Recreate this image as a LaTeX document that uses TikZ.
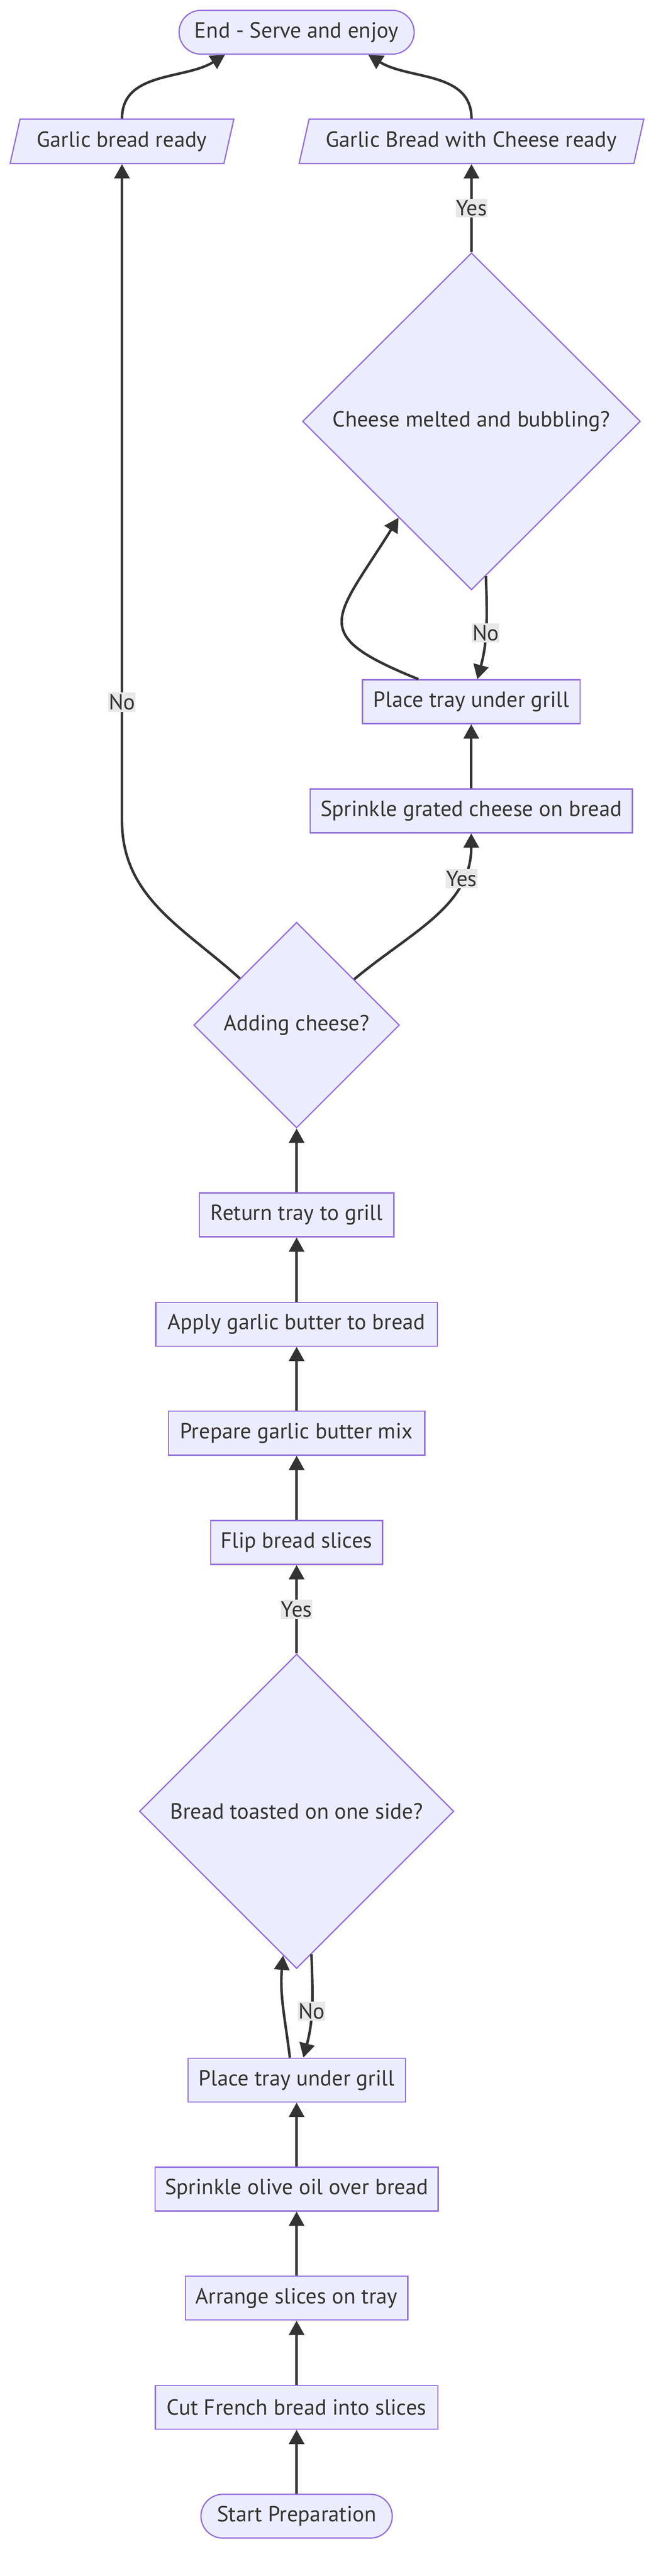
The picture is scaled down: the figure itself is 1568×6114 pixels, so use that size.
\documentclass[tikz,border=0pt]{standalone}
\usepackage{fontspec}
\setmainfont{PT Sans}
\usepackage{tikz}
\usetikzlibrary{shapes.geometric,arrows.meta,calc}
\definecolor{nodefill}{HTML}{ECECFF}
\definecolor{nodeline}{HTML}{9370DB}
\definecolor{ink}{HTML}{333333}
\definecolor{lblfill}{HTML}{E8E8E8}

\begin{document}
\begin{tikzpicture}[x=0.5pt,y=-0.5pt,
		base/.style={draw=nodeline,fill=nodefill,line width=1.5pt,text=ink,font=\fontsize{26}{30}\selectfont,inner xsep=4pt,inner ysep=0pt,minimum height=52pt},
		proc/.style={base,rectangle},
		term/.style={base,rectangle,rounded corners=26pt},
		outbox/.style={base,trapezium,trapezium left angle=63.7,trapezium right angle=116.3,trapezium stretches body,minimum height=52.5pt},
		ask/.style={base,diamond,inner sep=0pt},
		link/.style={draw=ink,line width=3pt,-{Triangle[length=17pt,width=18pt]}},
		lbl/.style={fill=lblfill,text=ink,font=\fontsize{26}{30}\selectfont,inner xsep=0.5pt,inner ysep=2pt}]
	\useasboundingbox (0,0) rectangle (1568,6114);
	\fill[white] (0,0) rectangle (1568,6114);

	\node[term, minimum width=279pt] (endn) at (704,76.5) {End - Serve and enjoy};
	\node[outbox, minimum width=265.5pt] (plain) at (289.5,335.5) {Garlic bread ready};
	\node[outbox, minimum width=409pt] (cheesy) at (1119,335.5) {Garlic Bread with Cheese ready};
	\node[ask, minimum width=401pt, minimum height=400pt] (melted) at (1119,1000) {Cheese melted and bubbling?};
	\node[proc, minimum width=258.5pt] (grilltwo) at (1118.5,1665.5) {Place tray under grill};
	\node[proc, minimum width=382.5pt] (cheese) at (1118.5,1924.5) {Sprinkle grated cheese on bread};
	\node[ask, minimum width=244pt, minimum height=244pt] (adding) at (704,2433) {Adding cheese?};
	\node[proc, minimum width=231pt] (back) at (704,2883.5) {Return tray to grill};
	\node[proc, minimum width=334pt] (apply) at (704,3143) {Apply garlic butter to bread};
	\node[proc, minimum width=304pt] (mix) at (704,3401.5) {Prepare garlic butter mix};
	\node[proc, minimum width=204pt] (flip) at (704,3661) {Flip bread slices};
	\node[ask, minimum width=373pt, minimum height=373pt] (toasted) at (704,4299) {Bread toasted on one side?};
	\node[proc, minimum width=258pt] (grillone) at (704,4937) {Place tray under grill};
	\node[proc, minimum width=336pt] (oil) at (704,5195.5) {Sprinkle olive oil over bread};
	\node[proc, minimum width=264pt] (arrange) at (704,5454.5) {Arrange slices on tray};
	\node[proc, minimum width=335.5pt] (cut) at (704,5713.5) {Cut French bread into slices};
	\node[term, minimum width=227pt] (start) at (704,5972) {Start Preparation};

	\foreach \a/\b in {start/cut,cut/arrange,arrange/oil,oil/grillone,flip/mix,mix/apply,apply/back,back/adding,cheese/grilltwo}
		\draw[link] (\a) -- (\b);

	\draw[link] ([xshift=-8pt]grillone.north) to[out=97,in=-95] ($(toasted.south)!0.086!(toasted.west)$);
	\draw[link] ($(toasted.south)!0.094!(toasted.east)$) to[out=-88,in=75] node[lbl,pos=0.55]{No} ([xshift=8pt]grillone.north);
	\draw[link] (toasted) -- node[lbl]{Yes} (flip);

	\draw[link] ($(adding.north)!0.557!(adding.east)$) to[out=40,in=-90] node[lbl,pos=0.76]{Yes} (cheese.south);
	\draw[link] ($(adding.north)!0.549!(adding.west)$) to[out=138,in=-90] (plain.center |- 0,1947) -- node[lbl,pos=0.18]{No} (plain);

	\draw[link] ([xshift=-62.75pt]grilltwo.north) to[out=158,in=-122,looseness=1.9] ($(melted.south)!0.43!(melted.west)$);
	\draw[link] ($(melted.south)!0.085!(melted.east)$) to[out=-88,in=75] node[lbl,pos=0.55]{No} ([xshift=7.25pt]grilltwo.north);
	\draw[link] (melted) -- node[lbl]{Yes} (cheesy);

	\draw[link] (plain.north) to[out=90,in=-148] ([xshift=-85pt]endn.south);
	\draw[link] (cheesy.north) to[out=90,in=-32] ([xshift=85pt]endn.south);
\end{tikzpicture}
\end{document}
